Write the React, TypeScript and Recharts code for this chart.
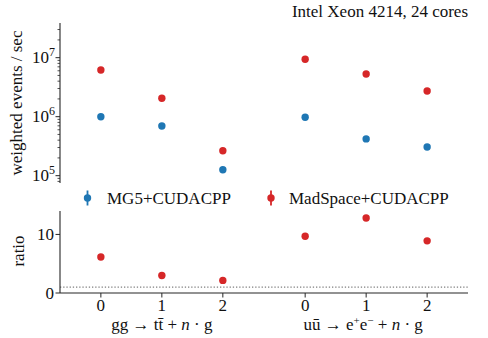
import { ScatterChart, Scatter, XAxis, YAxis, ReferenceLine } from "recharts";

// x placement of the six processes (two groups of n = 0, 1, 2)
const xPositions = [0, 1, 2, 3.35, 4.35, 5.35];
const multiplicity = ["0", "1", "2", "0", "1", "2"];

// weighted events / sec
const mg5Rate = [1.0e6, 6.95e5, 1.26e5, 9.8e5, 4.2e5, 3.06e5];
const madspaceRate = [6.2e6, 2.05e6, 2.65e5, 9.4e6, 5.3e6, 2.73e6];

// MadSpace / MG5 speed-up
const speedupRatio = [6.15, 2.98, 2.15, 9.7, 12.8, 8.9];

const rateMajorTicks = [1e5, 1e6, 1e7];
const rateMinorTicks = [
  8e4, 9e4, 2e5, 3e5, 4e5, 5e5, 6e5, 7e5, 8e5, 9e5, 2e6, 3e6, 4e6, 5e6, 6e6,
  7e6, 8e6, 9e6, 2e7, 3e7,
];
const ratioTicks = [0, 10];

const FONT = "Liberation Serif";
const BLUE = "#1f77b4";
const RED = "#d62728";
const FRAME = "#262626";
const X_DOMAIN: [number, number] = [-0.67, 6.02];

const mg5Points = xPositions.map((x, i) => ({ x, y: mg5Rate[i] }));
const madspacePoints = xPositions.map((x, i) => ({ x, y: madspaceRate[i] }));
const ratioPoints = xPositions.map((x, i) => ({ x, y: speedupRatio[i] }));

const dot = (color: string) => (props: any) => (
  <circle cx={props.cx} cy={props.cy} r={3.7} fill={color} />
);

function RateTick({ x, y, payload }: any) {
  const v = payload.value;
  const major = rateMajorTicks.includes(v);
  const exp = Math.round(Math.log10(v));
  return (
    <g>
      <line x1={x} x2={x - (major ? 4.5 : 2.5)} y1={y} y2={y} stroke={FRAME} strokeWidth={major ? 1 : 0.8} />
      {major && (
        <text x={x - 5} y={y + 5.5} textAnchor="end" fontFamily={FONT} fontSize={17} fill="#111">
          10
          <tspan dy={-7.5} fontSize={12}>
            {exp}
          </tspan>
        </text>
      )}
    </g>
  );
}

function RatioTick({ x, y, payload }: any) {
  return (
    <g>
      <line x1={x} x2={x - 4.5} y1={y} y2={y} stroke={FRAME} strokeWidth={1} />
      <text x={x - 6} y={y + 5.5} textAnchor="end" fontFamily={FONT} fontSize={17} fill="#111">
        {payload.value}
      </text>
    </g>
  );
}

function ProcessTick({ x, y, payload }: any) {
  const i = xPositions.indexOf(payload.value);
  return (
    <g>
      <line x1={x} x2={x} y1={y} y2={y + 4.5} stroke={FRAME} strokeWidth={1} />
      <text x={x} y={y + 18} textAnchor="middle" fontFamily={FONT} fontSize={17} fill="#111">
        {multiplicity[i]}
      </text>
      {i === 1 && (
        <text x={x} y={y + 37} textAnchor="middle" fontFamily={FONT} fontSize={17} fill="#111">
          {"gg → tt\u0304 + "}
          <tspan fontStyle="italic">n</tspan>
          {" · g"}
        </text>
      )}
      {i === 4 && (
        <text x={x - 3} y={y + 37} textAnchor="middle" fontFamily={FONT} fontSize={17} fill="#111">
          {"u\u016B → e"}
          <tspan dy={-6} fontSize={11}>+</tspan>
          <tspan dy={6}>e</tspan>
          <tspan dy={-6} fontSize={11}>−</tspan>
          <tspan dy={6}>{" + "}</tspan>
          <tspan fontStyle="italic">n</tspan>
          {" · g"}
        </text>
      )}
    </g>
  );
}

function LegendMarker({ x, y, color }: { x: number; y: number; color: string }) {
  return (
    <g>
      <line x1={x} x2={x} y1={y - 7.5} y2={y + 7.5} stroke={color} strokeWidth={1.8} />
      <circle cx={x} cy={y} r={3.7} fill={color} />
    </g>
  );
}

export default function App() {
  return (
    <div style={{ position: "absolute", left: 0, top: 0, width: 488, height: 338, background: "#fff" }}>
      <div style={{ position: "absolute", left: 0, top: 0 }}>
        <ScatterChart width={488} height={190} margin={{ top: 23, right: 20, bottom: 7, left: 0 }}>
          <XAxis dataKey="x" type="number" domain={X_DOMAIN} allowDataOverflow height={0} tick={false} tickLine={false} axisLine={{ stroke: FRAME, strokeWidth: 1.1 }} />
          <XAxis xAxisId="top" orientation="top" dataKey="x" type="number" domain={X_DOMAIN} height={0} tick={false} tickLine={false} axisLine={{ stroke: FRAME, strokeWidth: 1.1 }} />
          <YAxis
            dataKey="y"
            type="number"
            scale="log"
            domain={[75160, 3.87e7]}
            allowDataOverflow
            width={60}
            ticks={[...rateMinorTicks, ...rateMajorTicks]}
            interval={0}
            tick={RateTick}
            tickLine={false}
            tickSize={0}
            tickMargin={0}
            axisLine={{ stroke: FRAME, strokeWidth: 1.1 }}
          />
          <YAxis yAxisId="right" orientation="right" type="number" domain={[0, 1]} width={0} tick={false} tickLine={false} axisLine={{ stroke: FRAME, strokeWidth: 1.1 }} />
          <Scatter data={mg5Points} shape={dot(BLUE)} isAnimationActive={false} />
          <Scatter data={madspacePoints} shape={dot(RED)} isAnimationActive={false} />
        </ScatterChart>
      </div>
      <div style={{ position: "absolute", left: 0, top: 190 }}>
        <ScatterChart width={488} height={148} margin={{ top: 21, right: 20, bottom: 0, left: 0 }}>
          <XAxis
            dataKey="x"
            type="number"
            domain={X_DOMAIN}
            allowDataOverflow
            ticks={xPositions}
            interval={0}
            height={45}
            tick={ProcessTick}
            tickLine={false}
            tickSize={0}
            tickMargin={0}
            axisLine={{ stroke: FRAME, strokeWidth: 1.1 }}
          />
          <XAxis xAxisId="top" orientation="top" dataKey="x" type="number" domain={X_DOMAIN} height={0} tick={false} tickLine={false} axisLine={{ stroke: FRAME, strokeWidth: 1.1 }} />
          <YAxis
            dataKey="y"
            type="number"
            domain={[0, 14]}
            allowDataOverflow
            width={60}
            ticks={ratioTicks}
            interval={0}
            tick={RatioTick}
            tickLine={false}
            tickSize={0}
            tickMargin={0}
            axisLine={{ stroke: FRAME, strokeWidth: 1.1 }}
          />
          <YAxis yAxisId="right" orientation="right" type="number" domain={[0, 1]} width={0} tick={false} tickLine={false} axisLine={{ stroke: FRAME, strokeWidth: 1.1 }} />
          <ReferenceLine y={1} stroke="#7f7f7f" strokeWidth={1.2} strokeDasharray="1.3 1.9" />
          <Scatter data={ratioPoints} shape={dot(RED)} isAnimationActive={false} />
        </ScatterChart>
      </div>
      <svg width={488} height={338} style={{ position: "absolute", left: 0, top: 0, pointerEvents: "none" }}>
        <text x={468} y={17} textAnchor="end" fontFamily={FONT} fontSize={17} fill="#111">
          Intel Xeon 4214, 24 cores
        </text>
        <text x={16.5} y={103} transform="rotate(-90 16.5 103)" textAnchor="middle" dominantBaseline="central" fontFamily={FONT} fontSize={17} fill="#111">
          weighted events / sec
        </text>
        <text x={18} y={251} transform="rotate(-90 18 251)" textAnchor="middle" dominantBaseline="central" fontFamily={FONT} fontSize={17} fill="#111">
          ratio
        </text>
        <LegendMarker x={87.5} y={198} color={BLUE} />
        <text x={107} y={204} fontFamily={FONT} fontSize={17} fill="#111">
          MG5+CUDACPP
        </text>
        <LegendMarker x={271} y={198} color={RED} />
        <text x={289} y={204} fontFamily={FONT} fontSize={17} fill="#111">
          MadSpace+CUDACPP
        </text>
      </svg>
    </div>
  );
}
